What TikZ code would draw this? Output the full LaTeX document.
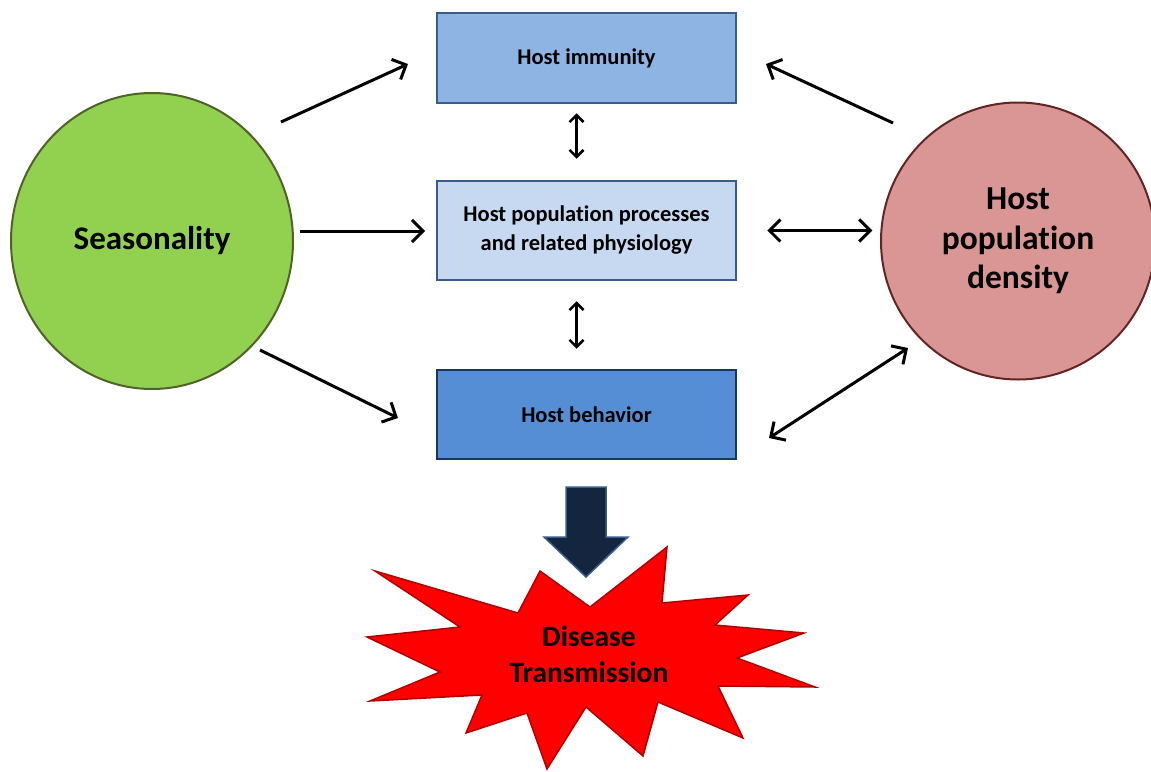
\documentclass[tikz,border=0pt]{standalone}
\usepackage{fontspec}
\setmainfont{Carlito}[Ligatures=NoCommon]
\usetikzlibrary{shapes.geometric,arrows.meta}
\definecolor{seasfill}{HTML}{92D050}
\definecolor{seasline}{HTML}{4F6228}
\definecolor{densfill}{HTML}{D99694}
\definecolor{densline}{HTML}{632523}
\definecolor{immfill}{HTML}{8DB4E2}
\definecolor{procfill}{HTML}{C6D9F1}
\definecolor{behfill}{HTML}{558ED5}
\definecolor{boxline}{HTML}{385D8A}
\definecolor{behline}{HTML}{17375E}
\definecolor{downfill}{HTML}{14263F}
\definecolor{burstline}{HTML}{B00000}
\tikzset{
  hostbox/.style={draw=boxline, line width=2.5pt, minimum width=299, minimum height=90,
    inner sep=0pt, align=center, font=\fontsize{22.5}{29}\selectfont\bfseries},
  bubble/.style={ellipse, line width=2pt, inner sep=0pt, align=center},
  arr/.style={line width=3pt, -{Straight Barb[length=11pt,width=22pt]}},
  dblarr/.style={line width=3pt, {Straight Barb[length=11pt,width=22pt]}-{Straight Barb[length=11pt,width=22pt]}},
  smallarr/.style={line width=2.5pt, {Straight Barb[length=7pt,width=14pt]}-{Straight Barb[length=7pt,width=14pt]}}
}
\begin{document}
\begin{tikzpicture}[x=1pt,y=-1pt]
  \useasboundingbox (0,0) rectangle (1151,771);
  % circles
  \node[bubble, draw=seasline, fill=seasfill, minimum width=282, minimum height=296,
    font=\fontsize{33}{40}\selectfont\bfseries] (seas) at (152,241) {Seasonality};
  \node[bubble, draw=densline, fill=densfill, minimum width=274, minimum height=277,
    font=\fontsize{33.5}{39.5}\selectfont\bfseries] (dens) at (1018,241) {Host\\population\\density};
  % boxes
  \node[hostbox, fill=immfill] (imm) at (586.5,58) {Host immunity};
  \node[hostbox, fill=procfill, minimum height=99] (proc) at (586.5,230.5)
    {Host population processes\\and related physiology};
  \node[hostbox, fill=behfill, draw=behline, minimum height=89] (beh) at (586.5,414.5) {Host behavior};
  % free ends
  \coordinate (si) at (281,122);
  \coordinate (is) at (408,64);
  \coordinate (sp) at (300,231);
  \coordinate (ps) at (425,231);
  \coordinate (sb) at (260,350);
  \coordinate (bs) at (398,418);
  \coordinate (di) at (893,123);
  \coordinate (id) at (766,64);
  \coordinate (db) at (908,348);
  \coordinate (bd) at (769,438);
  \draw[arr] (si) -- (is);
  \draw[arr] (sp) -- (ps);
  \draw[arr] (sb) -- (bs);
  \draw[arr] (di) -- (id);
  \draw[dblarr] ([xshift=30pt]proc.east) -- ([xshift=135pt]proc.east);
  \draw[dblarr] (bd) -- (db);
  \draw[smallarr] ([xshift=-10pt,yshift=-9pt]imm.south) -- ([xshift=-10pt,yshift=21pt]proc.north);
  \draw[smallarr] ([xshift=-10pt,yshift=-20pt]proc.south) -- ([xshift=-10pt,yshift=20pt]beh.north);
  % down arrow
  \draw[draw=boxline, fill=downfill, line width=1.5pt, line join=miter]
    (566,487) -- (606,487) -- (606,537) -- (628,537) -- (586,577)
    -- (544,537) -- (566,537) -- cycle;
  % burst
  \draw[fill=red, draw=burstline, line width=1.5pt, line join=miter]
    (375,571) -- (518,613) -- (540,571) -- (590,607) -- (667,547) -- (662,603)
    -- (748,595) -- (715,625) -- (804,633) -- (737,658) -- (815,687) -- (718,686)
    -- (743,738) -- (658,702) -- (643,756) -- (586,707) -- (547,769) -- (527,713)
    -- (466,733) -- (482,695) -- (370,701) -- (440,672) -- (367,637) -- (460,627)
    -- cycle;
  \node[align=center, font=\fontsize{29.5}{36}\selectfont\bfseries] (dis) at (589,654)
    {Disease\\Transmission};
\end{tikzpicture}
\end{document}
